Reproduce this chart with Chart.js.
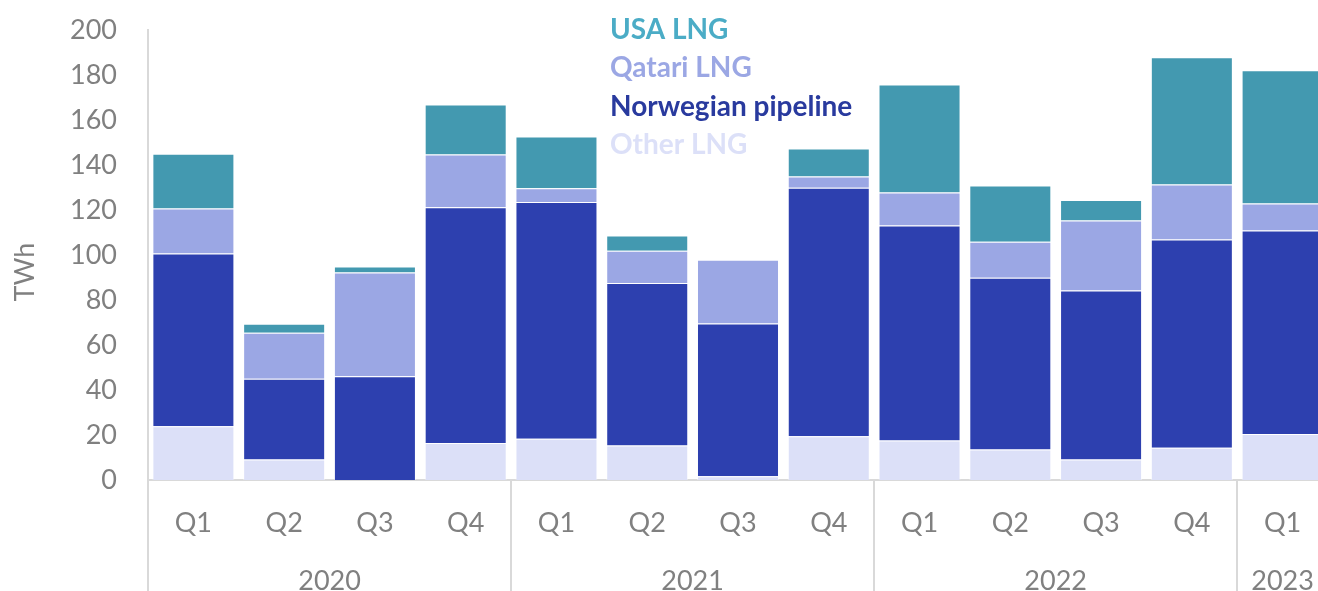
<!DOCTYPE html>
<html>
<head>
<meta charset="utf-8">
<script src="https://cdn.jsdelivr.net/npm/chart.js@4/dist/chart.umd.min.js"></script>
<style>
  html, body { margin: 0; padding: 0; background: #ffffff; overflow: hidden; }
  #wrap { width: 1328px; height: 591px; }
</style>
</head>
<body>
<div id="wrap"><canvas id="c" width="1328" height="591"></canvas></div>
<script>
// Quarterly gas supply by source, TWh
const quarters = ['Q1', 'Q2', 'Q3', 'Q4', 'Q1', 'Q2', 'Q3', 'Q4', 'Q1', 'Q2', 'Q3', 'Q4', 'Q1'];
const yearLabels = ['2020', '2021', '2022', '2023'];
const quartersPerYear = [4, 4, 4, 1];

const otherLNG          = [23.9,  9.1,  0.0, 16.5, 18.3, 15.3,  1.7, 19.5, 17.6, 13.6,  9.1, 14.3, 20.5];
const norwegianPipeline = [76.8, 35.9, 46.1, 104.7, 105.3, 72.3, 67.9, 110.4, 95.5, 76.3, 75.1, 92.6, 90.4];
const qatariLNG         = [20.0, 20.4, 46.1, 23.5,  6.1, 14.3, 28.3,  5.0, 14.7, 16.0, 31.1, 24.4, 12.0];
const usaLNG            = [24.3,  4.0,  2.7, 22.2, 23.0,  6.8,  0.0, 12.4, 48.0, 25.0,  9.2, 56.6, 59.2];

const yTicks = { min: 0, max: 200, step: 20 };

const FONT = 'Lato, "Open Sans", sans-serif';
const GREY = '#808080';
const AXIS = '#d9d9d9';

// Legend entries are drawn as coloured text, top series first
const legendText = {
  id: 'legendText',
  afterDraw(chart) {
    const ctx = chart.ctx;
    const sets = chart.data.datasets.slice().reverse();
    ctx.save();
    ctx.font = 'bold 28px ' + FONT;
    ctx.textAlign = 'left';
    ctx.textBaseline = 'alphabetic';
    sets.forEach((ds, i) => {
      ctx.fillStyle = ds.legendColor;
      ctx.fillText(ds.label, 610, 38.5 + i * 38.5);
    });
    ctx.restore();
  }
};

// Year grouping under the quarter labels, plus the y-axis title
const yearAxis = {
  id: 'yearAxis',
  afterDraw(chart) {
    const ctx = chart.ctx;
    const x = chart.scales.x;
    const area = chart.chartArea;
    const step = (area.right - area.left) / quarters.length;
    ctx.save();
    ctx.strokeStyle = AXIS;
    ctx.lineWidth = 2;
    let idx = 0;
    const bounds = [idx];
    quartersPerYear.forEach(n => { idx += n; bounds.push(idx); });
    bounds.slice(0, -1).forEach(b => {
      const px = Math.round(x.getPixelForValue(b) - step / 2);
      ctx.beginPath();
      ctx.moveTo(px, area.bottom);
      ctx.lineTo(px, chart.height);
      ctx.stroke();
    });
    ctx.fillStyle = GREY;
    ctx.font = '27px ' + FONT;
    ctx.textAlign = 'center';
    ctx.textBaseline = 'alphabetic';
    yearLabels.forEach((label, i) => {
      const a = x.getPixelForValue(bounds[i]) - step / 2;
      const b = x.getPixelForValue(bounds[i + 1] - 1) + step / 2;
      ctx.fillText(label, (a + b) / 2, 590);
    });
    // axis title
    ctx.translate(25, 272);
    ctx.rotate(-Math.PI / 2);
    ctx.textBaseline = 'middle';
    ctx.fillText('TWh', 0, 0);
    ctx.restore();
  }
};

const BORDER = 'rgba(255,255,255,0.45)';

new Chart(document.getElementById('c'), {
  type: 'bar',
  data: {
    labels: quarters,
    datasets: [
      { label: 'Other LNG', data: otherLNG, backgroundColor: '#dce0f8', legendColor: '#dce0f8', borderColor: BORDER, borderWidth: 1 },
      { label: 'Norwegian pipeline', data: norwegianPipeline, backgroundColor: '#2d40af', legendColor: '#293a9e', borderColor: BORDER, borderWidth: 1 },
      { label: 'Qatari LNG', data: qatariLNG, backgroundColor: '#9ba7e4', legendColor: '#9ba7e4', borderColor: BORDER, borderWidth: 1 },
      { label: 'USA LNG', data: usaLNG, backgroundColor: '#4399b0', legendColor: '#4bacc6', borderColor: BORDER, borderWidth: 1 }
    ]
  },
  options: {
    responsive: false,
    devicePixelRatio: 1,
    animation: false,
    layout: { padding: { top: 30, left: 0, right: 0, bottom: 0 } },
    plugins: { legend: { display: false }, tooltip: { enabled: false } },
    datasets: { bar: { categoryPercentage: 0.9036, barPercentage: 1 } },
    scales: {
      x: {
        stacked: true,
        grid: { display: false, drawTicks: false },
        border: { display: true, color: AXIS, width: 2 },
        ticks: { color: GREY, font: { family: FONT, size: 27 }, padding: 27, maxRotation: 0, autoSkip: false },
        afterFit(scale) { scale.height = 111; scale.paddingLeft = 0; scale.paddingRight = 0; }
      },
      y: {
        stacked: true,
        min: yTicks.min,
        max: yTicks.max,
        grid: { display: false, drawTicks: false },
        border: { display: true, color: AXIS, width: 2 },
        ticks: { stepSize: yTicks.step, color: GREY, font: { family: FONT, size: 27 }, padding: 31 },
        afterFit(scale) { scale.width = 148; scale.paddingTop = 0; scale.paddingBottom = 0; }
      }
    }
  },
  plugins: [legendText, yearAxis]
});
</script>
</body>
</html>
